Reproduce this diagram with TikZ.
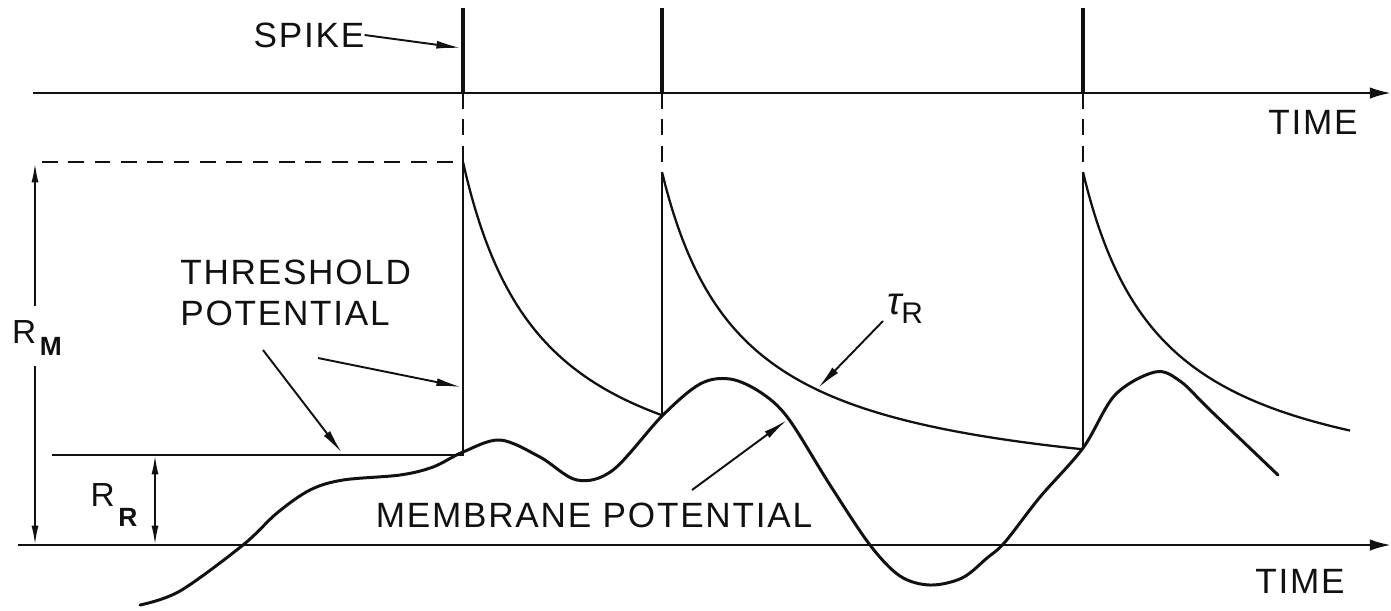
\documentclass[tikz,border=0pt]{standalone}
\usepackage{fontspec}
\setmainfont{Liberation Sans}[LetterSpace=5]
\usetikzlibrary{arrows.meta,positioning}
\definecolor{ink}{HTML}{111111}
\newcommand{\rlabel}[2]{{\fontsize{19}{21}\selectfont R}\kern2pt\raisebox{#1}{\fontsize{15}{17}\selectfont\bfseries #2}}

\begin{document}
\begin{tikzpicture}[x=0.02cm,y=-0.02cm,ink,>={Latex[length=11pt,width=4pt]},
  lbl/.style={font=\fontsize{20}{23}\selectfont,inner sep=0pt,align=left},
  timeaxis/.style={line width=1.4pt,-{Latex[length=12pt,width=6.5pt]}},
  pointer/.style={line width=1.1pt,-{Latex[length=14pt,width=4.5pt]}},
  dim/.style={line width=1.1pt},
  fine/.style={line width=1.1pt},
  spike/.style={line width=2.8pt},
  guide/.style={line width=1.1pt,dash pattern=on 9pt off 6pt},
  decay/.style={line width=1.3pt},
  curve/.style={line width=1.7pt,line join=round,line cap=round}]
\useasboundingbox (0,0) rectangle (1391,610);
\coordinate (s1) at (463,93);
\coordinate (s2) at (662,93);
\coordinate (s3) at (1083,93);
\coordinate (rmtop) at (35,163);
\coordinate (rmbot) at (35,545);
\coordinate (rrtop) at (155,455);
\coordinate (rrbot) at (155,545);
% time axes and spikes
\draw[timeaxis] (33,93) -- (1391,93);
\draw[timeaxis] (18,545) -- (1391,545);
\foreach \n in {s1,s2,s3} \draw[spike] (\n) -- ++(0,-85);
\draw[guide] (s1) -- (463,162) -- (35,162);
\draw[guide] (s2) -- (662,172);
\draw[guide] (s3) -- (1083,172);
% threshold
\draw[fine] (52,455) -- (463,455) -- (463,162);
\draw[decay] plot[domain=0:199,samples=80,smooth] ({463+\x},{162+355*(\x/(\x+80))});
\draw[fine] (662,417) -- (662,172);
\draw[decay] plot[domain=0:421,samples=120,smooth] ({662+\x},{172+330*(\x/(\x+80))});
\draw[fine] (1083,449) -- (1083,172);
\draw[decay] plot[domain=0:267,samples=80,smooth] ({1083+\x},{172+336*(\x/(\x+80))});
% membrane potential
\draw[curve] plot[smooth,tension=0.55] coordinates {(140,605) (180,591) (243,545) (277,513) (310,490) (343,480) (400,475) (433,467) (463,452) (500,440) (540,457) (577,480) (613,470) (662,416) (700,384) (730,379) (760,392) (788,418) (830,485) (870,545) (900,576) (930,585) (962,578) (987,558) (1005,542) (1040,497) (1083,448) (1115,395) (1155,372) (1180,381) (1210,410) (1278,475)};
% labels
\node[lbl] (spk) at (309,35) {SPIKE};
\coordinate (spktip) at (461,48);
\draw[pointer] (spk.east) -- (spktip);
\node[lbl,anchor=north west] (th) at (180,260) {THRESHOLD\\POTENTIAL};
\coordinate (th1) at (263,350);
\coordinate (th2) at (318,358);
\draw[pointer] (th1) -- (342,453);
\draw[pointer] (th2) -- (461,387);
\node[lbl] (rm) at (37,338) {\rlabel{-6.8pt}{M}};
\draw[dim,->] ([yshift=8pt]rm.north -| rmtop) -- (rmtop);
\draw[dim,->] ([yshift=-6pt]rm.south -| rmbot) -- (rmbot);
\node[lbl] (rr) at (114,505) {\rlabel{-11pt}{R}};
\draw[dim,<->] (rrtop) -- (rrbot);
\node[lbl] (tau) at (905,309) {{\fontsize{22}{24}\selectfont\itshape τ}\raisebox{-5pt}{\fontsize{17}{19}\selectfont R}};
\coordinate (tau1) at (883,321);
\draw[pointer] (tau1) -- (818,388);
\node[lbl] (mp) at (594,515) {MEMBRANE POTENTIAL};
\coordinate (mp1) at (692,490);
\draw[pointer] (mp1) -- (787,420);
\node[lbl] (t1) at (1313,122) {TIME};
\node[lbl] (t2) at (1300,581) {TIME};
\end{tikzpicture}
\end{document}
